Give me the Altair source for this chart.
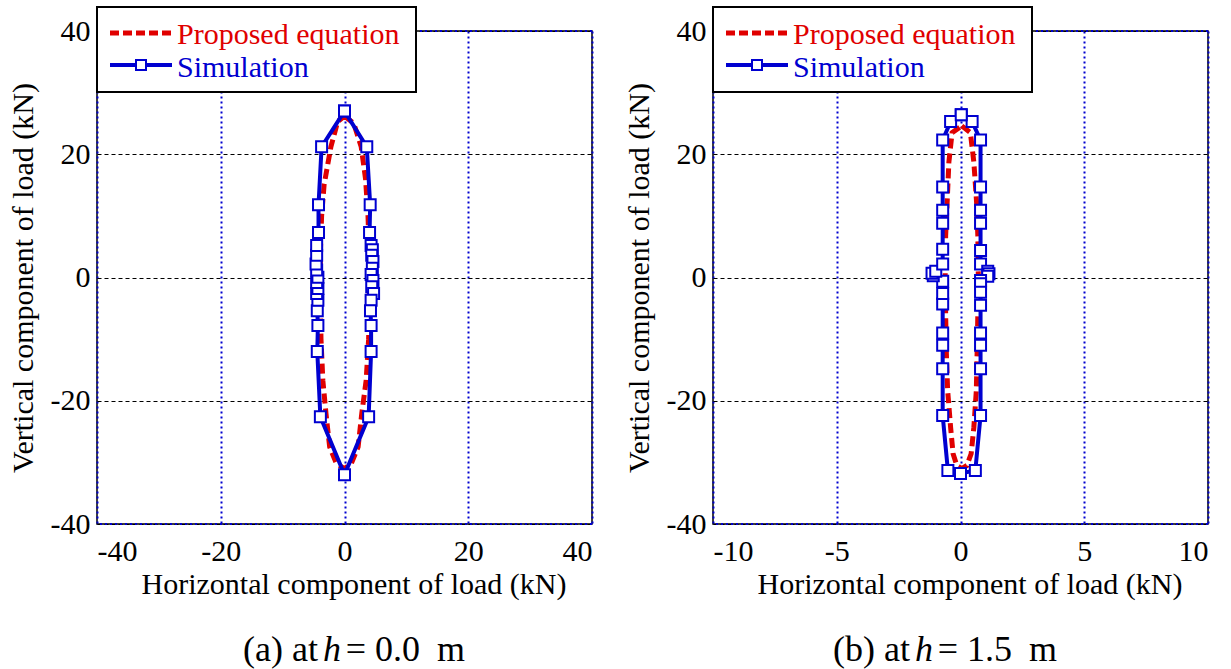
import altair as alt
import pandas as pd

FONT = "Liberation Serif, Times New Roman, serif"
RED = "#e00000"
BLUE = "#0000d0"

# ---------- panel (a) h = 0.0 m ----------
left_sim_x = [0.0, 3.6, 4.15, 4.05, 4.3, 4.5, 4.4, 4.6, 4.5, 4.3, 4.6, 4.4, 4.7, 4.3, 4.2, 4.3, 4.3, 3.9,
              0.0, -3.9, -4.4, -4.3, -4.4, -4.3, -4.5, -4.3, -4.5, -4.3, -4.5, -4.6, -4.5, -4.5, -4.2, -4.2, -3.7, 0.0]
left_sim_y = [27.0, 21.2, 11.8, 7.3, 5.2, 4.5, 3.6, 2.6, 1.5, 0.5, -0.5, -1.5, -2.6, -3.7, -5.4, -7.8, -12.0, -22.6,
              -32.0, -22.6, -12.0, -7.8, -5.4, -3.7, -2.6, -1.8, -0.8, 0.05, 1.2, 2.2, 3.6, 5.2, 7.3, 11.8, 21.2, 27.0]
left_eq_x = [0.0, 1.5, 2.7, 3.4, 3.8, 4.0, 4.0, 3.9, 3.5, 2.8, 2.2, 1.1, 0.0,
             -1.3, -2.4, -3.0, -3.5, -3.8, -3.9, -3.9, -3.7, -3.3, -2.2, -1.1, 0.0]
left_eq_y = [26.2, 25.0, 21.2, 16.0, 10.0, 4.0, -4.0, -10.0, -16.7, -22.0, -27.5, -30.2, -31.0,
             -30.2, -27.5, -22.0, -16.7, -10.0, -4.0, 4.0, 10.0, 15.0, 21.2, 25.3, 26.2]

# ---------- panel (b) h = 1.5 m ----------
right_sim_x = [0.03, 0.47, 0.81, 0.81, 0.81, 0.81, 0.81, 0.81, 1.1, 1.15, 1.1, 0.81, 0.81, 0.81, 0.81, 0.81,
               0.81, 0.81, 0.81, 0.6, 0.0, -0.51, -0.72, -0.72, -0.72, -0.72, -0.72, -0.72, -0.72, -1.1,
               -1.15, -1.0, -0.72, -0.72, -0.72, -0.72, -0.72, -0.72, -0.4, 0.03]
right_sim_y = [26.4, 25.3, 22.3, 14.7, 10.9, 8.8, 4.4, 2.2, 1.0, 0.6, 0.2, -0.5, -1.0, -2.4, -4.5, -9.0,
               -11.0, -14.8, -22.4, -31.3, -31.8, -31.3, -22.4, -14.8, -11.0, -9.0, -4.3, -2.6, -0.6, 0.3,
               0.7, 1.0, 2.2, 4.6, 8.8, 10.9, 14.7, 22.3, 25.3, 26.4]
right_eq_x = [0.05, 0.4, 0.54, 0.65, 0.7, 0.72, 0.7, 0.67, 0.64, 0.54, 0.43, 0.26, 0.05,
              -0.15, -0.3, -0.4, -0.52, -0.57, -0.6, -0.62, -0.6, -0.54, -0.47, -0.34, 0.05]
right_eq_y = [24.6, 23.5, 18.7, 12.2, 6.8, 0.0, -6.0, -12.4, -18.3, -24.3, -28.6, -30.5, -31.0,
              -30.5, -28.6, -24.3, -18.3, -12.4, -6.0, 0.0, 6.8, 12.2, 18.7, 23.5, 24.6]

y_ticks = [-40, -20, 0, 20, 40]
left_x_ticks = [-40, -20, 0, 20, 40]
right_x_ticks = [-10, -5, 0, 5, 10]
x_title = "Horizontal component of load (kN)"
y_title = "Vertical component of load (kN)"
legend_labels = ["Proposed equation", "Simulation"]

W, H = 495, 493
LABEL_EXPR = "datum.value < 0 ? '-' + abs(datum.value) : '' + datum.value"
SUB_SIZE = 36


def one():
    return alt.Data(values=[{"a": 1}])


def sub_text(txt, x, align, italic=False):
    kw = dict(font=FONT, fontSize=SUB_SIZE, color="black", align=align, baseline="alphabetic")
    if italic:
        kw["fontStyle"] = "italic"
    return alt.Chart(one()).mark_text(**kw).encode(
        x=alt.value(x), y=alt.value(630), text=alt.value(txt))


def panel(sim_x, sim_y, eq_x, eq_y, xdom, xticks, sub):
    sim = pd.DataFrame({"x": sim_x, "y": sim_y, "o": list(range(len(sim_x)))})
    eq = pd.DataFrame({"x": eq_x, "y": eq_y, "o": list(range(len(eq_x)))})
    xs = alt.Scale(domain=xdom, nice=False, zero=False)
    ys = alt.Scale(domain=[-40, 40], nice=False, zero=False)
    xax = alt.Axis(values=xticks, title=x_title, grid=True, gridColor=BLUE, gridDash=[2, 3],
                   gridWidth=2, ticks=False, domain=False, labelFontSize=30, labelPadding=12,
                   labelFont=FONT, labelColor="black", labelExpr=LABEL_EXPR,
                   titleFont=FONT, titleFontSize=30, titleFontWeight="normal", titleColor="black",
                   titleY=69, titleBaseline="alphabetic", titleX=W / 2 + 9)
    yax = alt.Axis(values=y_ticks, title=y_title, grid=True, gridColor="black", gridDash=[4, 3],
                   gridWidth=1.2, ticks=False, domain=False, labelFontSize=30, labelPadding=7,
                   labelFont=FONT, labelColor="black", labelExpr=LABEL_EXPR,
                   titleFont=FONT, titleFontSize=30, titleFontWeight="normal", titleColor="black",
                   titleX=-74, titleBaseline="middle")

    edges = alt.Chart(pd.DataFrame({"y": [-40, 40]})).mark_rule(
        color=BLUE, strokeDash=[2, 3], strokeWidth=2
    ).encode(y=alt.Y("y:Q", scale=ys, axis=yax))

    eq_line = alt.Chart(eq).mark_line(color=RED, strokeWidth=5, strokeDash=[10, 5]).encode(
        x=alt.X("x:Q", scale=xs, axis=xax), y=alt.Y("y:Q", scale=ys, axis=yax), order="o:Q")
    sim_line = alt.Chart(sim).mark_line(color=BLUE, strokeWidth=4).encode(
        x=alt.X("x:Q", scale=xs), y=alt.Y("y:Q", scale=ys), order="o:Q")
    sim_pts = alt.Chart(sim).mark_point(shape="square", size=121, filled=True, fill="white",
                                        stroke=BLUE, strokeWidth=2, opacity=1).encode(
        x=alt.X("x:Q", scale=xs), y=alt.Y("y:Q", scale=ys))

    box = alt.Chart(one()).mark_rect(fill="white", stroke="black", strokeWidth=2).encode(
        x=alt.value(0), x2=alt.value(319), y=alt.value(-24), y2=alt.value(61))
    lg_red = alt.Chart(one()).mark_rule(color=RED, strokeWidth=5, strokeDash=[9, 4]).encode(
        x=alt.value(13), x2=alt.value(75), y=alt.value(2))
    lg_blue = alt.Chart(one()).mark_rule(color=BLUE, strokeWidth=4).encode(
        x=alt.value(13), x2=alt.value(75), y=alt.value(34))
    lg_sq = alt.Chart(one()).mark_point(shape="square", size=100, filled=True, fill="white",
                                        stroke=BLUE, strokeWidth=2, opacity=1).encode(
        x=alt.value(44), y=alt.value(34))
    lg_t1 = alt.Chart(one()).mark_text(font=FONT, fontSize=30, color=RED, align="left",
                                       baseline="alphabetic").encode(
        x=alt.value(80), y=alt.value(13), text=alt.value(legend_labels[0]))
    lg_t2 = alt.Chart(one()).mark_text(font=FONT, fontSize=30, color=BLUE, align="left",
                                       baseline="alphabetic").encode(
        x=alt.value(80), y=alt.value(46), text=alt.value(legend_labels[1]))

    # sub-caption with italic h
    s1 = sub_text(sub["pre"], sub["x1"], "right")
    s2 = sub_text("h", sub["xh"], "center", italic=True)
    s3 = sub_text("=", sub["xeq"], "center")
    s4 = sub_text(sub["num"], sub["x4"], "left")
    s5 = sub_text("m", sub["xm"], "left")

    return alt.layer(edges, eq_line, sim_line, sim_pts, box, lg_red, lg_blue, lg_sq,
                     lg_t1, lg_t2, s1, s2, s3, s4, s5).properties(width=W, height=H)


left = panel(left_sim_x, left_sim_y, left_eq_x, left_eq_y, [-40, 40], left_x_ticks,
             {"pre": "(a) at", "num": "0.0", "x1": 221, "xh": 235, "xeq": 259, "x4": 278, "xm": 340})
right = panel(right_sim_x, right_sim_y, right_eq_x, right_eq_y, [-10, 10], right_x_ticks,
              {"pre": "(b) at", "num": "1.5", "x1": 197, "xh": 211, "xeq": 235, "x4": 254, "xm": 316})

chart = alt.hconcat(left, right, spacing=121, bounds="flush").configure_view(
    stroke="black", strokeWidth=1.5
).properties(padding={"left": 7, "top": 5, "right": 5, "bottom": 0})

chart.save("out.html", embed_options={"renderer": "svg", "actions": False})
